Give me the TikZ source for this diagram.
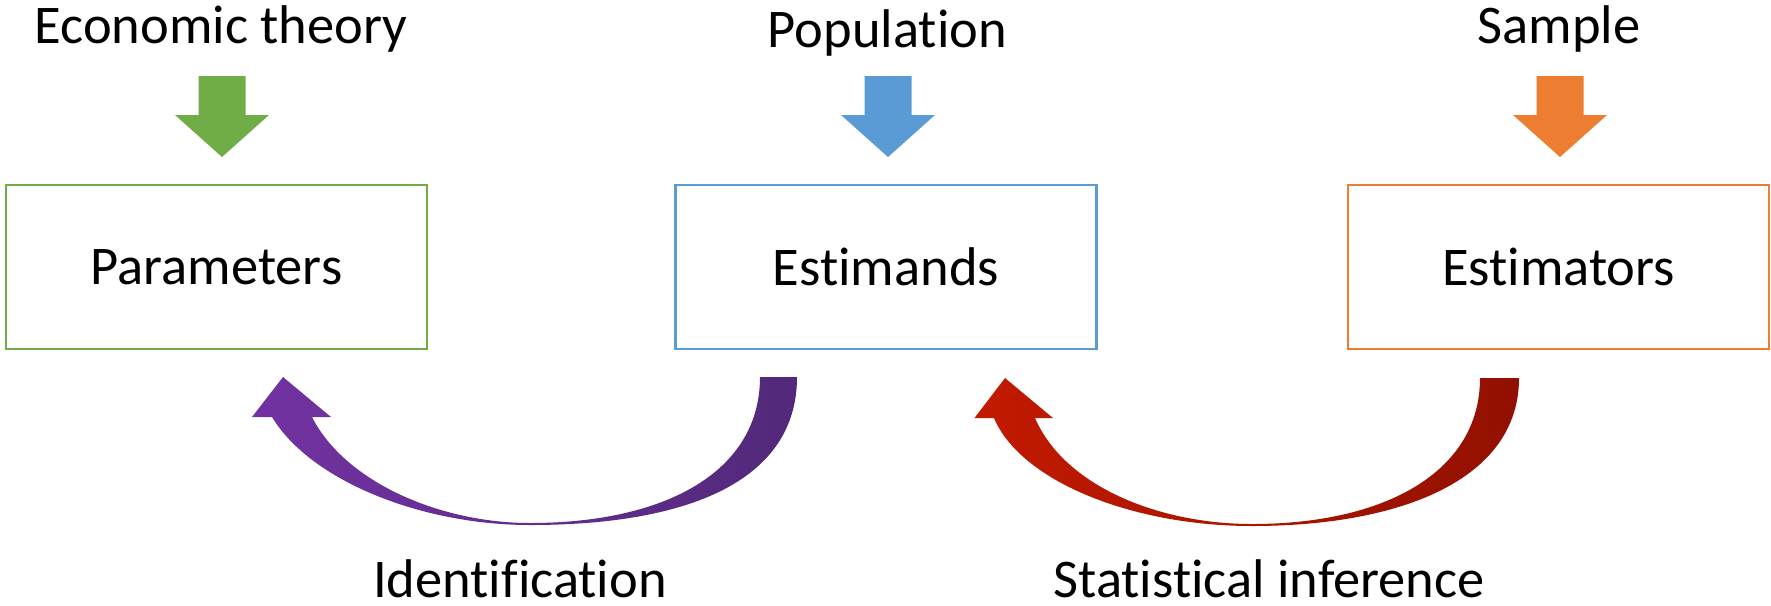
\documentclass[tikz,border=0pt]{standalone}
\usepackage{fontspec}
\setmainfont{Carlito}[Ligatures=NoCommon]
\definecolor{cgreen}{HTML}{70AD47}
\definecolor{cblue}{HTML}{5B9BD5}
\definecolor{corange}{HTML}{ED7D31}
\definecolor{cpurpleL}{HTML}{7232A2}
\definecolor{cpurpleR}{HTML}{52297A}
\definecolor{credL}{HTML}{C21A00}
\definecolor{credR}{HTML}{921000}
\newcommand{\downblock}[2]{%
  \fill[#1] (#2-23.5,76) -- (#2+23.5,76) -- (#2+23.5,115) -- (#2+47,115)
    -- (#2,157) -- (#2-47,115) -- (#2-23.5,115) -- cycle;}
\begin{document}
\begin{tikzpicture}[x=0.1mm,y=-0.1mm,
  lbl/.style={font=\fontsize{15.5}{18}\selectfont, inner sep=0pt, anchor=base},
  box/.style={draw=#1, line width=0.25mm, minimum width=42.1mm, minimum height=16.4mm,
    inner sep=0pt, font=\fontsize{15.5}{18}\selectfont}]
\useasboundingbox (0,0) rectangle (1771,605);

% top labels
\node[lbl] (econ) at (221,43) {Economic theory};
\node[lbl] (pop) at (887.5,47) {Population};
\node[lbl] (samp) at (1559,43) {Sample};

% down block arrows
\downblock{cgreen}{222}
\downblock{cblue}{888}
\downblock{corange}{1560}

% boxes
\node[box=cgreen] (par) at (216.5,267) {Parameters};
\node[box=cblue] (est) at (886,267) {Estimands};
\node[box=corange] (estr) at (1558.5,267) {Estimators};

% curved arrow: identification
\shade[left color=cpurpleL, right color=cpurpleR]
  (797,377) .. controls (797,480) and (690,525) .. (530,525)
  .. controls (420,525) and (310,480) .. (272,417)
  -- (252,417) -- (283,377) -- (331,417) -- (312,417)
  .. controls (345,482) and (440,523) .. (530,523)
  .. controls (665,523) and (760,472) .. (760,377) -- cycle;

% curved arrow: statistical inference
\shade[left color=credL, right color=credR]
  (1519,378) .. controls (1519,480) and (1400,526) .. (1252,526)
  .. controls (1130,526) and (1020,480) .. (994,418)
  -- (974.5,418) -- (1005,378) -- (1053,418) -- (1035,418)
  .. controls (1065,487) and (1160,524) .. (1252,524)
  .. controls (1385,524) and (1480,472) .. (1480,378) -- cycle;

% bottom labels
\node[lbl] (ident) at (520,597) {Identification};
\node[lbl] (stat) at (1269,597) {Statistical inference};
\end{tikzpicture}
\end{document}
